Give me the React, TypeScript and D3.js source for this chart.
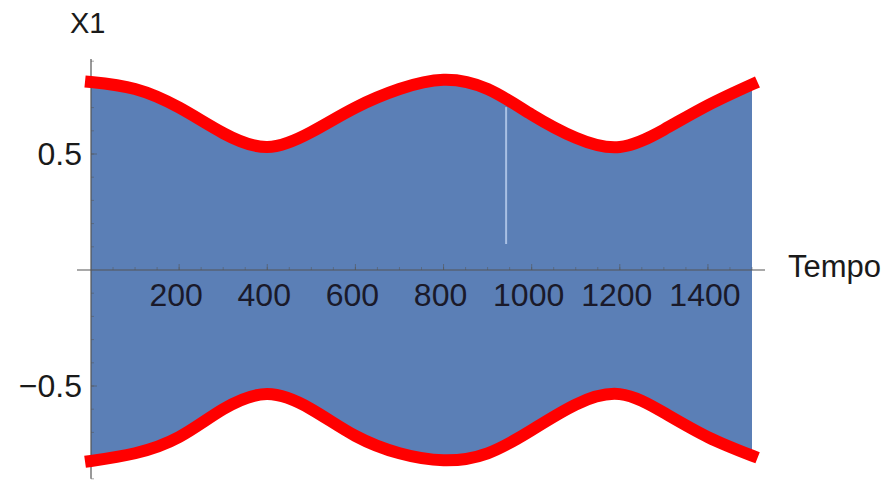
import React from 'react';
import * as d3 from 'd3';

// sampled envelope of X1 over Tempo
const tempo = [0, 100, 200, 300, 400, 500, 600, 700, 800, 900, 1000, 1100, 1200, 1300, 1400, 1500];
const upper = [0.81, 0.78, 0.7, 0.59, 0.53, 0.595, 0.7, 0.78, 0.82, 0.78, 0.67, 0.57, 0.53, 0.605, 0.71, 0.8];
const lower = [-0.823, -0.79, -0.72, -0.6, -0.535, -0.6, -0.715, -0.79, -0.82, -0.79, -0.69, -0.58, -0.535, -0.615, -0.72, -0.8];

// thin gap in the fast oscillation
const gapTempo = 942;
const gapRange = [0.112, 0.702];

const xTicks = [200, 400, 600, 800, 1000, 1200, 1400];
const xMinor = d3.range(50, 1501, 50);
const yTicks = [0.5, -0.5];
const yMinor = [-0.9, -0.8, -0.7, -0.6, -0.5, -0.4, -0.3, -0.2, -0.1, 0.1, 0.2, 0.3, 0.4, 0.5, 0.6, 0.7, 0.8, 0.9];

const W = 894;
const H = 481;
const font = '"Liberation Sans", Arial, sans-serif';

type Pt = { t: number; hi: number; lo: number };

const App = () => {
  const x = d3.scaleLinear().domain([0, 1500]).range([91, 752]);
  const y = d3.scaleLinear().domain([0, 0.5]).range([270, 154]);

  const pts: Pt[] = tempo.map((t, i) => ({ t, hi: upper[i], lo: lower[i] }));

  const area = d3
    .area<Pt>()
    .x(d => x(d.t))
    .y0(d => y(d.lo))
    .y1(d => y(d.hi))
    .curve(d3.curveNatural);

  const lineHi = d3
    .line<Pt>()
    .x(d => x(d.t))
    .y(d => y(d.hi))
    .curve(d3.curveNatural);

  const lineLo = d3
    .line<Pt>()
    .x(d => x(d.t))
    .y(d => y(d.lo))
    .curve(d3.curveNatural);

  const axisColor = '#555';

  return (
    <svg width={W} height={H} style={{ position: 'absolute', left: 0, top: 0, background: '#fff' }}>
      <path d={area(pts) || ''} fill="#5b7fb6" />
      <line
        x1={x(gapTempo)}
        x2={x(gapTempo)}
        y1={y(gapRange[0])}
        y2={y(gapRange[1])}
        stroke="#a9c0e4"
        strokeWidth={2}
      />

      {/* x axis */}
      <line x1={77} x2={765} y1={y(0)} y2={y(0)} stroke={axisColor} strokeWidth={1.2} />
      {xMinor.map(t => (
        <line key={'xm' + t} x1={x(t)} x2={x(t)} y1={y(0)} y2={y(0) - 3} stroke={axisColor} strokeOpacity={0.5} />
      ))}
      {xTicks.map(t => (
        <line key={'xt' + t} x1={x(t)} x2={x(t)} y1={y(0)} y2={y(0) - 6} stroke={axisColor} strokeOpacity={0.6} />
      ))}
      {xTicks.map(t => (
        <text
          key={'xl' + t}
          x={x(t) - 3}
          y={306}
          textAnchor="middle"
          fontFamily={font}
          fontSize={32}
          fill="#1a1a2a"
        >
          {t}
        </text>
      ))}
      <text x={788} y={277} fontFamily={font} fontSize={31} fill="#1a1a1a">
        Tempo
      </text>

      {/* y axis */}
      <line x1={x(0)} x2={x(0)} y1={y(0.91)} y2={y(-0.9)} stroke={axisColor} strokeWidth={1.2} />
      {yMinor.map(v => (
        <line key={'ym' + v} x1={x(0)} x2={x(0) + 3} y1={y(v)} y2={y(v)} stroke={axisColor} strokeOpacity={0.5} />
      ))}
      {yTicks.map(v => (
        <line key={'yt' + v} x1={x(0)} x2={x(0) + 6} y1={y(v)} y2={y(v)} stroke={axisColor} strokeOpacity={0.6} />
      ))}
      {yTicks.map(v => (
        <text
          key={'yl' + v}
          x={82}
          y={y(v) + 11}
          textAnchor="end"
          fontFamily={font}
          fontSize={32}
          fill="#1a1a1a"
        >
          {v > 0 ? '0.5' : '\u22120.5'}
        </text>
      ))}
      <text x={70} y={33} fontFamily={font} fontSize={29} fill="#1a1a1a">
        X1
      </text>

      {/* envelope */}
      <path d={lineHi(pts) || ''} fill="none" stroke="#ff0000" strokeWidth={12} strokeLinecap="square" />
      <path d={lineLo(pts) || ''} fill="none" stroke="#ff0000" strokeWidth={12} strokeLinecap="square" />
    </svg>
  );
};

export default App;
